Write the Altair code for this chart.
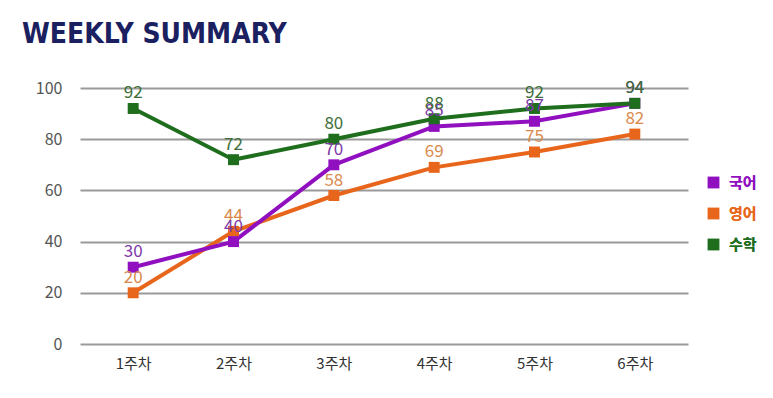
import altair as alt
import pandas as pd

weeks = ["1주차", "2주차", "3주차", "4주차", "5주차", "6주차"]
subjects = ["국어", "영어", "수학"]
korean = [30, 40, 70, 85, 87, 94]
english = [20, 44, 58, 69, 75, 82]
math = [92, 72, 80, 88, 92, 94]
colors = ["#9010c0", "#e8661c", "#1e6e1e"]
label_colors = ["#7e3aa8", "#d98a4e", "#3e6e38"]
title_text = "WEEKLY SUMMARY"

series = {"영어": english, "국어": korean, "수학": math}
rows = []
for order, (name, vals) in enumerate(series.items()):
    for w, v in zip(weeks, vals):
        rows.append({"week": w, "subject": name, "score": v, "ord": order})
df = pd.DataFrame(rows)

legend_color_expr = (f"datum.value == '{subjects[0]}' ? '{colors[0]}' : "
                     f"datum.value == '{subjects[1]}' ? '{colors[1]}' : '{colors[2]}'")

x = alt.X("week:N", sort=weeks, scale=alt.Scale(type="point", padding=0.53),
          axis=alt.Axis(title=None, domain=False, ticks=False, labelAngle=0,
                        labelPadding=12, labelFontSize=15, labelColor="#333",
                        labelFont="Noto Sans CJK KR", grid=False))
y = alt.Y("score:Q", scale=alt.Scale(domain=[0, 100], nice=False),
          axis=alt.Axis(title=None, domain=False, ticks=False, values=[0, 20, 40, 60, 80, 100],
                        labelPadding=18, labelFontSize=16, labelColor="#555",
                        labelFont="Noto Sans CJK KR", gridColor="#9a9a9a", gridWidth=2))
color = alt.Color("subject:N", scale=alt.Scale(domain=subjects, range=colors),
                  legend=alt.Legend(title=None, orient="none", legendX=626, legendY=87,
                                    symbolType="square", symbolSize=140, symbolStrokeWidth=0,
                                    labelFontSize=15, labelFontWeight="bold",
                                    labelFont="Noto Sans CJK KR", rowPadding=15,
                                    labelOffset=8,
                                    labelColor=alt.ExprRef(legend_color_expr)))

base = alt.Chart(df)
lines = base.mark_line(strokeWidth=4).encode(x=x, y=y, color=color, order="ord:Q")
points = base.mark_point(shape="square", filled=True, size=120, opacity=1).encode(
    x=x, y=y, color=color)
labels = base.mark_text(baseline="bottom", dy=-6, fontSize=17, font="Noto Sans CJK KR").encode(
    x=x, y=y, text="score:Q",
    color=alt.Color("subject:N", scale=alt.Scale(domain=subjects, range=label_colors), legend=None))

title = alt.Chart(pd.DataFrame({"t": [title_text]})).mark_text(
    align="left", baseline="alphabetic", font="DejaVu Sans Condensed", fontSize=28,
    fontWeight="bold", color="#1b2060").encode(
    x=alt.value(-58), y=alt.value(-45), text="t:N")

chart = alt.layer(lines, points, labels, title).resolve_scale(color="independent").properties(
    width=608, height=256,
    autosize=alt.AutoSizeParams(type="none"),
    padding={"left": 72, "top": 80, "right": 77, "bottom": 46},
).configure_view(stroke=None)

chart.save("out.html", embed_options={"renderer": "svg", "actions": False})
